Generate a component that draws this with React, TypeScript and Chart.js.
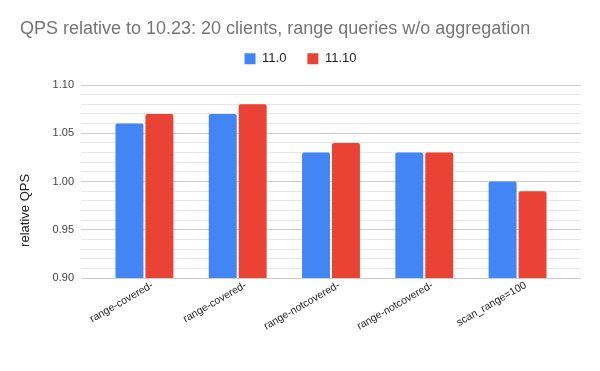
import React, { useEffect, useRef } from "react";
import { Chart, registerables } from "chart.js";

Chart.register(...registerables);

const titleText = "QPS relative to 10.23: 20 clients, range queries w/o aggregation";
const categories = [
  "range-covered-",
  "range-covered-",
  "range-notcovered-",
  "range-notcovered-",
  "scan_range=100",
];
const seriesNames = ["11.0", "11.10"];
const values110 = [1.06, 1.07, 1.03, 1.03, 1.0];
const values1110 = [1.07, 1.08, 1.04, 1.03, 0.99];
const yMajorTicks = [0.9, 0.95, 1.0, 1.05, 1.1];
const yMin = 0.9;
const yMax = 1.1;
const yMinorStep = 0.01;
const yAxisTitle = "relative QPS";

const FONT = "'Liberation Sans', Arial, sans-serif";
const CHART_TOP = 85;

const isMajor = (v: number) => yMajorTicks.some((m) => Math.abs(m - v) < 1e-6);

// makes the legend box reach down to the top of the plot area
const legendSpacer = {
  id: "legendSpacer",
  afterInit(chart: any) {
    const legend = chart.legend;
    if (!legend) return;
    const origFit = legend.fit.bind(legend);
    legend.fit = function () {
      origFit();
      const t = chart.titleBlock;
      const titleBottom = t ? t.height : 0;
      this.height = Math.max(this.height, CHART_TOP - titleBottom);
    };
  },
};

export default function App() {
  const ref = useRef<HTMLCanvasElement | null>(null);

  useEffect(() => {
    if (!ref.current) return;
    const chart = new Chart(ref.current, {
      type: "bar",
      data: {
        datasets: [
          {
            label: seriesNames[0],
            data: values110.map((v, i) => ({ x: i, y: v })),
            backgroundColor: "#4285F4",
            borderRadius: 2,
            categoryPercentage: 0.642,
            barPercentage: 0.933,
          },
          {
            label: seriesNames[1],
            data: values1110.map((v, i) => ({ x: i, y: v })),
            backgroundColor: "#EA4335",
            borderRadius: 2,
            categoryPercentage: 0.642,
            barPercentage: 0.933,
          },
        ],
      },
      plugins: [legendSpacer],
      options: {
        animation: false,
        responsive: false,
        maintainAspectRatio: false,
        layout: { padding: { left: 20, right: 19, top: 0, bottom: 0 } },
        plugins: {
          title: {
            display: true,
            text: titleText,
            align: "start",
            color: "#757575",
            font: { family: FONT, size: 18, weight: "normal" },
            padding: { top: 18.7, bottom: -9 },
          },
          legend: {
            display: true,
            position: "top",
            align: "center",
            labels: {
              boxWidth: 11,
              boxHeight: 11,
              color: "#222222",
              font: { family: FONT, size: 13 },
              padding: 21,
            },
          },
          tooltip: { enabled: false },
        },
        scales: {
          x: {
            type: "linear",
            offset: false,
            min: -0.68,
            max: 4.68,
            grid: { display: false, offset: false },
            border: { display: false },
            afterBuildTicks: (scale: any) => {
              scale.ticks = categories.map((_, i) => ({ value: i }));
            },
            afterFit: (scale: any) => {
              scale.height = 93;
            },
            ticks: {
              autoSkip: false,
              minRotation: 30,
              maxRotation: 30,
              color: "#222222",
              font: { family: FONT, size: 10.5 },
              padding: -7,
              labelOffset: 8,
              callback: (v: any) => categories[Math.round(Number(v))] ?? "",
            },
          },
          y: {
            type: "linear",
            min: yMin,
            max: yMax,
            border: { display: false },
            grid: {
              drawTicks: false,
              color: (ctx: any) => (ctx.tick && isMajor(ctx.tick.value) ? "#cccccc" : "#e6e6e6"),
              lineWidth: 1,
            },
            afterBuildTicks: (scale: any) => {
              const n = Math.round((yMax - yMin) / yMinorStep);
              const ticks: { value: number }[] = [];
              for (let i = 0; i <= n; i++) ticks.push({ value: yMin + i * yMinorStep });
              scale.ticks = ticks;
            },
            afterFit: (scale: any) => {
              scale.width = 61;
            },
            ticks: {
              autoSkip: false,
              color: "#444444",
              padding: 7,
              font: { family: FONT, size: 11 },
              callback: (v: any) => {
                const n = Number(v);
                const m = yMajorTicks.find((t) => Math.abs(t - n) < 1e-6);
                return m === undefined ? "" : m.toFixed(2);
              },
            },
            title: {
              display: true,
              text: yAxisTitle + " ".repeat(16),
              color: "#222222",
              font: { family: FONT, size: 13 },
              padding: { top: -2, bottom: 0 },
            },
          },
        },
      },
    } as any);
    return () => chart.destroy();
  }, []);

  return (
    <div style={{ position: "absolute", left: 0, top: 0, width: 600, height: 371, background: "#fff" }}>
      <canvas ref={ref} width={600} height={371} style={{ width: 600, height: 371 }} />
    </div>
  );
}
